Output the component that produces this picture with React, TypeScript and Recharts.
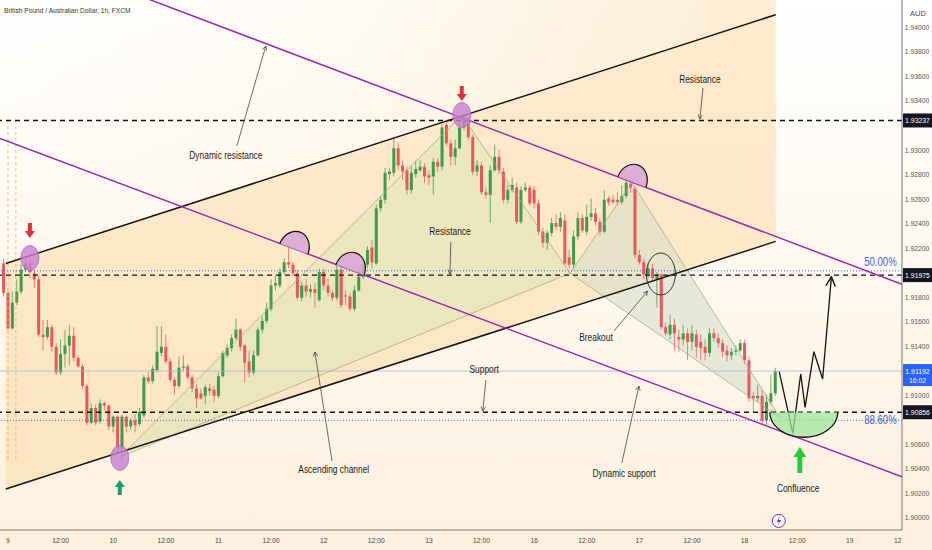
import React from 'react';
import {
  ComposedChart,
  Bar,
  Line,
  Area,
  XAxis,
  YAxis,
  ReferenceLine,
  ReferenceDot,
} from 'recharts';

const TITLE = 'British Pound / Australian Dollar, 1h, FXCM';
const GREEN = '#3d9b4a';
const RED = '#e8585b';
const PURPLE = '#9c27b0';
const FONT = '"Liberation Sans", Arial, sans-serif';

// hourly candles [open, high, low, close]; hour 0 = 00:00 on the 9th (weekend hours skipped)
const day9 = [
  [1.9207, 1.9211, 1.918, 1.9183],
  [1.9183, 1.9184, 1.9153, 1.9154],
  [1.9154, 1.9184, 1.9153, 1.9175],
  [1.9175, 1.9194, 1.9173, 1.9184],
  [1.9184, 1.9206, 1.9182, 1.9202],
  [1.9202, 1.921, 1.92, 1.9207],
  [1.9207, 1.9211, 1.9195, 1.92],
  [1.9199, 1.9202, 1.9187, 1.9194],
  [1.9194, 1.9197, 1.9147, 1.9149],
  [1.9149, 1.9161, 1.9136, 1.9147],
  [1.9147, 1.9161, 1.9145, 1.9155],
  [1.9155, 1.9157, 1.9135, 1.9139],
  [1.9139, 1.9142, 1.9116, 1.9118],
  [1.9118, 1.9145, 1.9116, 1.9133],
  [1.9133, 1.9153, 1.9122, 1.914],
  [1.914, 1.9157, 1.9124, 1.9148],
  [1.9148, 1.9155, 1.9127, 1.913],
  [1.913, 1.9132, 1.9122, 1.9123],
  [1.9123, 1.9125, 1.9105, 1.9107],
  [1.9107, 1.9109, 1.9075, 1.9077],
  [1.9077, 1.9093, 1.9076, 1.9089],
  [1.9089, 1.9092, 1.9075, 1.9077],
  [1.9078, 1.9096, 1.9076, 1.9093],
  [1.9093, 1.9094, 1.9087, 1.9091],
  [1.9091, 1.9092, 1.9071, 1.9074],
];
const day10 = [
  [1.9074, 1.9083, 1.9069, 1.9082],
  [1.9082, 1.9083, 1.9052, 1.9056],
  [1.9056, 1.9084, 1.9045, 1.9082],
  [1.9082, 1.9083, 1.9069, 1.9074],
  [1.9074, 1.9081, 1.9071, 1.9079],
  [1.9079, 1.9084, 1.9069, 1.9075],
  [1.9076, 1.9089, 1.9074, 1.9086],
  [1.9083, 1.9116, 1.9081, 1.9114],
  [1.9114, 1.9118, 1.9109, 1.9111],
  [1.9111, 1.9124, 1.9109, 1.9121],
  [1.912, 1.9156, 1.9118, 1.9135],
  [1.9134, 1.9156, 1.9131, 1.9139],
  [1.9139, 1.9149, 1.9125, 1.9127],
  [1.9127, 1.913, 1.911, 1.9112],
  [1.9112, 1.9114, 1.91, 1.9107],
  [1.9107, 1.9131, 1.9105, 1.9122],
  [1.9122, 1.9132, 1.9119, 1.9123],
  [1.9123, 1.9125, 1.9112, 1.9114],
  [1.9114, 1.9116, 1.9102, 1.9105],
  [1.9105, 1.9108, 1.9089, 1.9097],
  [1.9101, 1.9105, 1.9096, 1.9097],
  [1.9099, 1.9108, 1.9092, 1.9106],
  [1.9105, 1.9109, 1.9099, 1.9103],
  [1.9104, 1.9107, 1.9094, 1.9099],
];
const day11 = [
  [1.9099, 1.9118, 1.9097, 1.9115],
  [1.9115, 1.9136, 1.9114, 1.9134],
  [1.9132, 1.9141, 1.913, 1.9138],
  [1.9138, 1.9149, 1.9135, 1.9146],
  [1.9146, 1.9162, 1.9145, 1.9153],
  [1.9153, 1.9154, 1.9136, 1.9139],
  [1.914, 1.9141, 1.911, 1.9126],
  [1.9127, 1.9136, 1.9114, 1.9118],
  [1.9118, 1.9136, 1.9116, 1.9132],
  [1.9132, 1.9155, 1.9131, 1.9153],
  [1.9153, 1.9164, 1.915, 1.916],
  [1.916, 1.9175, 1.9158, 1.917],
  [1.917, 1.9194, 1.9168, 1.9189],
  [1.9189, 1.9197, 1.9185, 1.9191],
  [1.9189, 1.9203, 1.9187, 1.92],
  [1.92, 1.9211, 1.9198, 1.9208],
  [1.9208, 1.922, 1.9203, 1.9206],
  [1.9206, 1.9208, 1.9197, 1.9199],
  [1.9199, 1.9202, 1.9177, 1.9179],
  [1.9179, 1.9192, 1.9176, 1.9189],
  [1.9189, 1.9194, 1.918, 1.9184],
  [1.9184, 1.919, 1.9179, 1.9186],
  [1.9186, 1.9191, 1.9171, 1.9183],
  [1.9177, 1.9203, 1.9176, 1.92],
];
const day12 = [
  [1.92, 1.9203, 1.9185, 1.9189],
  [1.9189, 1.9195, 1.918, 1.9183],
  [1.9183, 1.9185, 1.9176, 1.9179],
  [1.9179, 1.9205, 1.9177, 1.9202],
  [1.9202, 1.9205, 1.9171, 1.9173],
  [1.9181, 1.9185, 1.9173, 1.918],
  [1.918, 1.9183, 1.9168, 1.917],
  [1.917, 1.9189, 1.9168, 1.9185],
  [1.9185, 1.92, 1.9184, 1.9196],
  [1.9196, 1.9208, 1.9194, 1.9206],
  [1.9206, 1.9221, 1.9203, 1.9218],
  [1.922, 1.9226, 1.9203, 1.9208],
  [1.9207, 1.9255, 1.9206, 1.9252],
  [1.9252, 1.9262, 1.9249, 1.9259],
  [1.9259, 1.9285, 1.9256, 1.9281],
  [1.928, 1.9285, 1.9275, 1.9282],
  [1.9281, 1.9309, 1.9278, 1.9301],
  [1.9301, 1.9305, 1.9283, 1.9287],
  [1.9287, 1.9291, 1.9275, 1.9282],
  [1.9283, 1.9286, 1.9263, 1.9267],
  [1.9267, 1.9287, 1.9264, 1.9281],
  [1.928, 1.9291, 1.9277, 1.9284],
  [1.9283, 1.9291, 1.9282, 1.9286],
  [1.9286, 1.9289, 1.9273, 1.9278],
];
const day13 = [
  [1.9279, 1.9283, 1.9271, 1.9277],
  [1.9278, 1.9293, 1.9263, 1.929],
  [1.929, 1.9293, 1.9282, 1.9286],
  [1.9286, 1.9321, 1.9283, 1.9318],
  [1.932, 1.9323, 1.9303, 1.9305],
  [1.9305, 1.9308, 1.9287, 1.9294],
  [1.9294, 1.9308, 1.9287, 1.9301],
  [1.9301, 1.9326, 1.93, 1.9318],
  [1.9318, 1.9329, 1.9316, 1.9326],
  [1.9324, 1.9326, 1.9308, 1.931],
  [1.931, 1.9312, 1.9279, 1.9282],
  [1.9282, 1.9291, 1.9278, 1.9287],
  [1.9287, 1.929, 1.9263, 1.9265],
  [1.9265, 1.9269, 1.926, 1.9263],
  [1.9263, 1.9287, 1.924, 1.9283],
  [1.9283, 1.9304, 1.9282, 1.9294],
  [1.9294, 1.93, 1.928, 1.9283],
  [1.9282, 1.9285, 1.9256, 1.9259],
  [1.9259, 1.9271, 1.9256, 1.9267],
  [1.9267, 1.9277, 1.9265, 1.9271],
  [1.9269, 1.9273, 1.9239, 1.9241],
  [1.9241, 1.927, 1.9239, 1.9267],
  [1.9267, 1.9273, 1.9265, 1.9269],
  [1.9269, 1.9271, 1.9254, 1.9256],
];
const day16 = [
  [1.9267, 1.927, 1.9252, 1.9256],
  [1.9256, 1.9259, 1.923, 1.9233],
  [1.9233, 1.9236, 1.922, 1.9224],
  [1.9224, 1.9234, 1.9218, 1.9232],
  [1.9232, 1.9244, 1.9229, 1.924],
  [1.924, 1.9247, 1.9234, 1.9237],
  [1.9237, 1.9249, 1.9233, 1.9244],
  [1.9242, 1.9247, 1.9205, 1.9207],
  [1.9212, 1.9218, 1.9203, 1.9206],
  [1.9206, 1.9234, 1.9203, 1.9229],
  [1.9229, 1.9249, 1.9226, 1.9244],
  [1.9244, 1.9247, 1.9232, 1.9234],
  [1.9233, 1.9255, 1.923, 1.9245],
  [1.9245, 1.926, 1.9242, 1.9248],
  [1.9248, 1.9252, 1.9238, 1.9241],
  [1.9241, 1.9244, 1.923, 1.9233],
  [1.9233, 1.9267, 1.9232, 1.9259],
  [1.926, 1.9262, 1.9254, 1.9257],
  [1.9259, 1.9263, 1.9255, 1.9257],
  [1.9259, 1.9265, 1.9254, 1.9257],
  [1.9257, 1.9271, 1.9255, 1.9262],
  [1.9262, 1.9278, 1.926, 1.9273],
  [1.9272, 1.9277, 1.9265, 1.9269],
  [1.9268, 1.9269, 1.9211, 1.9214],
];
const day17 = [
  [1.9214, 1.9218, 1.9206, 1.9208],
  [1.9208, 1.9211, 1.9194, 1.9198],
  [1.9198, 1.9207, 1.9195, 1.9203],
  [1.9203, 1.9207, 1.9192, 1.9195],
  [1.9194, 1.92, 1.9171, 1.9198],
  [1.9198, 1.9199, 1.9153, 1.9155],
  [1.9155, 1.9159, 1.9148, 1.915],
  [1.9149, 1.9165, 1.9145, 1.9157],
  [1.9157, 1.9162, 1.9136, 1.915],
  [1.9147, 1.9153, 1.9135, 1.9145],
  [1.9145, 1.9157, 1.914, 1.915],
  [1.915, 1.9154, 1.9128, 1.9143],
  [1.9143, 1.9157, 1.9136, 1.915],
  [1.9149, 1.9153, 1.913, 1.9139],
  [1.9143, 1.9149, 1.9128, 1.9138],
  [1.9139, 1.9145, 1.9128, 1.9134],
  [1.9134, 1.9154, 1.9131, 1.915],
  [1.915, 1.9154, 1.9143, 1.9146],
  [1.9146, 1.915, 1.9138, 1.9142],
  [1.9142, 1.9145, 1.913, 1.9135],
  [1.9136, 1.914, 1.9127, 1.9132],
  [1.9132, 1.9138, 1.9128, 1.9135],
  [1.9135, 1.914, 1.9132, 1.9136],
  [1.9136, 1.9145, 1.9135, 1.9142],
];
const day18 = [
  [1.9142, 1.9145, 1.9125, 1.9128],
  [1.9128, 1.9131, 1.9094, 1.9097],
  [1.9099, 1.9102, 1.9086, 1.9097],
  [1.9097, 1.9108, 1.9094, 1.9099],
  [1.9099, 1.9104, 1.9076, 1.9079],
  [1.9079, 1.91, 1.9075, 1.9094],
  [1.9094, 1.9116, 1.9092, 1.9101],
  [1.9101, 1.9122, 1.9099, 1.9119],
];
// first hour of each session array
const sessions: [number, number[][]][] = [
  [-1, day9],
  [24, day10],
  [48, day11],
  [72, day12],
  [96, day13],
  [120, day16],
  [144, day17],
  [168, day18],
];

const hourTicks = [0, 12, 24, 36, 48, 60, 72, 84, 96, 108, 120, 132, 144, 156, 168, 180, 192, 203.8];
const hourLabels = ['9', '12:00', '10', '12:00', '11', '12:00', '12', '12:00', '13', '12:00', '16', '12:00', '17', '12:00', '18', '12:00', '19', '12'];
const priceTicks = [1.9, 1.902, 1.904, 1.906, 1.91, 1.914, 1.916, 1.918, 1.922, 1.924, 1.926, 1.928, 1.93, 1.934, 1.936, 1.938, 1.94];

// levels
const resistanceTop = 1.93237;
const resistanceMid = 1.91975;
const supportLevel = 1.90856;
const lastPrice = 1.91192;
const fib50 = 1.9201;
const fib886 = 1.9079;
const priceTop = 1.9422;
const priceBottom = 1.89895;

// drawn lines as [hour, price] points
const channelUpper = [[-0.5, 1.9207], [175.1, 1.941]];
const channelLower = [[-0.5, 1.9023], [175.1, 1.9225]];
const purpleUpper = [[20, 1.9439], [203.9, 1.919]];
const purpleLower = [[-1.82, 1.9309], [203.9, 1.9033]];
const sessionMarks = [[0, 1.9324, 1.9047], [1.8, 1.9324, 1.9047]];
const projection = [
  [175.9, 1.91187],
  [179.0, 1.90684],
  [180.8, 1.91168],
  [181.8, 1.90896],
  [183.8, 1.9135],
  [185.8, 1.91127],
  [187.8, 1.91962],
];
// harmonic pattern X A B C D
const ptX = [25.5, 1.9049];
const ptA = [103.5, 1.9328];
const ptB = [128.2, 1.9199];
const ptC = [142.3, 1.9273];
const ptD = [176.1, 1.9081];

const notes: [string, number, number][] = [
  ['Dynamic resistance', 49.7, 1.92947],
  ['Resistance', 157.8, 1.93575],
  ['Resistance', 100.8, 1.92327],
  ['Support', 108.6, 1.91201],
  ['Ascending channel', 74.3, 1.90385],
  ['Dynamic support', 140.5, 1.90352],
  ['Breakout', 134.1, 1.91462],
  ['Confluence', 180.2, 1.9023],
];
const pointers = [
  [[52.2, 1.93029], [58.8, 1.93845]],
  [[158.5, 1.93502], [157.8, 1.93249]],
  [[101.0, 1.92245], [100.8, 1.91984]],
  [[109.0, 1.91119], [108.3, 1.90866]],
  [[73.9, 1.90458], [70.0, 1.91348]],
  [[140.0, 1.90442], [143.9, 1.9107]],
  [[138.2, 1.91519], [145.9, 1.91845]],
];
const pivots = [[5.0, 1.92115], [25.5, 1.90483], [103.5, 1.93282]];
const touches = [[65.2, 1.92188], [78.0, 1.92017], [142.3, 1.92735]];
const downArrows = [[5.0, 1.92278], [103.5, 1.93396]];

const candles = sessions.flatMap(([start, rows]) =>
  rows.map(([o, h, l, c], k) => ({ t: start + k, o, h, l, c }))
);

const toPts = (pts: number[][]) => pts.map(([t, v]) => ({ t, v }));

function triangleBand(a: number[], b: number[], c: number[]) {
  const [p, q, r] = [a, b, c].sort((m, n) => m[0] - n[0]);
  const mid = p[1] + ((r[1] - p[1]) * (q[0] - p[0])) / (r[0] - p[0]);
  return [
    { t: p[0], band: [p[1], p[1]] },
    { t: q[0], band: [Math.min(mid, q[1]), Math.max(mid, q[1])] },
    { t: r[0], band: [r[1], r[1]] },
  ];
}

// condensed chart font
function NText({ x, y, size, color, anchor = 'middle', squeeze = 0.84, children }: any) {
  return (
    <text
      transform={`translate(${x},${y}) scale(${squeeze},1)`}
      textAnchor={anchor}
      fontSize={size}
      fill={color}
      fontFamily={FONT}
    >
      {children}
    </text>
  );
}

function Candle(props: any) {
  const { x, y, width, height, payload } = props;
  if (!payload || x == null) return null;
  const { o, h, l, c } = payload;
  const top = Math.min(y, y + height);
  const bot = Math.max(y, y + height);
  const span = h - l;
  const py = (v: number) => (span === 0 ? top : top + ((h - v) / span) * (bot - top));
  const cx = x + width / 2;
  const col = c >= o ? GREEN : RED;
  const b1 = py(Math.max(o, c));
  const b2 = py(Math.min(o, c));
  return (
    <g>
      <line x1={cx} x2={cx} y1={top} y2={bot} stroke={col} strokeWidth={1} strokeOpacity={0.75} />
      <rect x={cx - 1.5} y={b1} width={3} height={Math.max(1, b2 - b1)} fill={col} />
    </g>
  );
}

const priceBox = (text: string, bg: string, sub?: string) => (props: any) => {
  const { x, y, width } = props.viewBox;
  const h = sub ? 22 : 14;
  return (
    <g>
      <rect x={x + width + 1} y={y - 7} width={29} height={h} fill={bg} />
      <NText x={x + width + 15.5} y={y + 3} size={7.5} color="#fff" squeeze={0.92}>
        {text}
      </NText>
      {sub && (
        <NText x={x + width + 15.5} y={y + 12} size={7.5} color="#fff" squeeze={0.92}>
          {sub}
        </NText>
      )}
    </g>
  );
};

const renderHourTick = (props: any) => {
  const { x, y, payload } = props;
  const i = hourTicks.indexOf(payload.value);
  const last = i === hourTicks.length - 1;
  return (
    <NText x={x} y={y + 5} anchor={last ? 'end' : 'middle'} size={7.5} color="#444" squeeze={0.9}>
      {hourLabels[i]}
    </NText>
  );
};

const renderPriceTick = (props: any) => {
  const { y, payload } = props;
  return (
    <NText x={917} y={y + 3} size={7.5} color="#555" squeeze={0.9}>
      {payload.value.toFixed(5)}
    </NText>
  );
};

const noteDot = (key: string, t: number, v: number, draw: (cx: number, cy: number) => any) => (
  <ReferenceDot key={key} x={t} y={v} r={0} shape={(p: any) => draw(p.cx, p.cy)} />
);

export default function App() {
  return (
    <div
      style={{
        position: 'relative',
        width: 932,
        height: 550,
        background: 'linear-gradient(to bottom, #ffffff 0%, #fefaf3 35%, #fdf0de 100%)',
        fontFamily: FONT,
      }}
    >
      <style>{'body{margin:0}'}</style>
      <div
        style={{
          position: 'absolute',
          left: 4,
          top: 6,
          fontSize: 8,
          color: '#333',
          whiteSpace: 'nowrap',
          transform: 'scaleX(0.83)',
          transformOrigin: 'left top',
        }}
      >
        {TITLE}
      </div>
      <div style={{ position: 'absolute', left: 910, top: 9, fontSize: 7.5, color: '#444' }}>AUD</div>
      <ComposedChart width={932} height={550} data={candles} margin={{ top: 0, right: 0, bottom: 0, left: 0 }}>
        <defs>
          <linearGradient id="aboveGrad" x1="0" y1="0" x2="1" y2="0">
            <stop offset="0%" stopColor="#fbd9a3" stopOpacity={0} />
            <stop offset="45%" stopColor="#fbd9a3" stopOpacity={0.12} />
            <stop offset="100%" stopColor="#fbd9a3" stopOpacity={0.5} />
          </linearGradient>
          <marker id="openHead" viewBox="0 0 10 10" refX="9" refY="5" markerWidth="7" markerHeight="7" orient="auto">
            <path d="M1,1 L9,5 L1,9" fill="none" stroke="#333" strokeWidth={1.2} />
          </marker>
          <marker id="bigHead" viewBox="0 0 10 10" refX="9" refY="5" markerWidth="9" markerHeight="9" orient="auto">
            <path d="M1,1 L9,5 L1,9" fill="none" stroke="#111" strokeWidth={1.2} />
          </marker>
        </defs>
        <XAxis
          dataKey="t"
          type="number"
          domain={[-1.82, 203.9]}
          allowDataOverflow
          ticks={hourTicks}
          interval={0}
          tick={renderHourTick}
          tickLine={false}
          axisLine={{ stroke: '#777' }}
          height={20}
        />
        <YAxis
          orientation="right"
          type="number"
          domain={[priceBottom, priceTop]}
          allowDataOverflow
          ticks={priceTicks}
          interval={0}
          tick={renderPriceTick}
          tickLine={false}
          axisLine={{ stroke: '#777' }}
          width={30}
        />
        <Area
          data={[
            { t: channelUpper[0][0], band: [channelUpper[0][1], priceTop + 0.001] },
            { t: channelUpper[1][0], band: [channelUpper[1][1], priceTop + 0.001] },
          ]}
          dataKey="band"
          type="linear"
          stroke="none"
          fill="url(#aboveGrad)"
          fillOpacity={1}
          isAnimationActive={false}
        />
        <Area
          data={[
            { t: channelLower[0][0], band: [channelLower[0][1], channelUpper[0][1]] },
            { t: channelLower[1][0], band: [channelLower[1][1], channelUpper[1][1]] },
          ]}
          dataKey="band"
          type="linear"
          stroke="none"
          fill="#fbd7a0"
          fillOpacity={0.5}
          isAnimationActive={false}
        />
        <Area data={triangleBand(ptX, ptA, ptB)} dataKey="band" type="linear" stroke="none" fill="#d9e6b6" fillOpacity={0.5} isAnimationActive={false} />
        <Area data={triangleBand(ptB, ptC, ptD)} dataKey="band" type="linear" stroke="none" fill="#d3dfcb" fillOpacity={0.55} isAnimationActive={false} />
        {[[ptX, ptA], [ptA, ptB], [ptX, ptB], [ptB, ptC], [ptC, ptD], [ptB, ptD]].map((seg, k) => (
          <Line key={`pat${k}`} data={toPts(seg)} dataKey="v" type="linear" stroke="#a9a98e" strokeWidth={0.8} dot={false} activeDot={false} isAnimationActive={false} />
        ))}
        {sessionMarks.map(([t, p1, p2], k) => (
          <ReferenceLine
            key={`sm${k}`}
            segment={[{ x: t, y: p1 }, { x: t, y: p2 }]}
            stroke="#f2a54a"
            strokeDasharray="3 3"
            strokeWidth={0.8}
          />
        ))}
        <ReferenceLine y={lastPrice} stroke="#9db3e6" strokeWidth={0.8} label={{ content: priceBox('1.91192', '#2962ff', '16:02') }} />
        <ReferenceLine y={fib50} stroke="#2962ff" strokeDasharray="1 2" strokeWidth={1} />
        <ReferenceLine y={fib886} stroke="#2962ff" strokeDasharray="1 2" strokeWidth={1} />
        <Bar dataKey={(d: any) => [d.l, d.h]} shape={Candle} barSize={3} isAnimationActive={false} />
        <ReferenceLine y={resistanceTop} stroke="#111" strokeDasharray="5 4" strokeWidth={1.4} label={{ content: priceBox('1.93237', '#131722') }} />
        <ReferenceLine y={resistanceMid} stroke="#111" strokeDasharray="5 4" strokeWidth={1.4} label={{ content: priceBox('1.91975', '#131722') }} />
        <ReferenceLine y={supportLevel} stroke="#111" strokeDasharray="5 4" strokeWidth={1.4} label={{ content: priceBox('1.90856', '#131722') }} />
        <Line data={toPts(channelUpper)} dataKey="v" type="linear" stroke="#151515" strokeWidth={1.5} dot={false} activeDot={false} isAnimationActive={false} />
        <Line data={toPts(channelLower)} dataKey="v" type="linear" stroke="#151515" strokeWidth={1.5} dot={false} activeDot={false} isAnimationActive={false} />
        <Line data={toPts(purpleUpper)} dataKey="v" type="linear" stroke={PURPLE} strokeWidth={1.5} dot={false} activeDot={false} isAnimationActive={false} />
        <Line data={toPts(purpleLower)} dataKey="v" type="linear" stroke={PURPLE} strokeWidth={1.5} dot={false} activeDot={false} isAnimationActive={false} />
        {pivots.map(([t, v], k) =>
          noteDot(`pv${k}`, t, v, (cx, cy) => (
            <ellipse cx={cx} cy={cy} rx={9} ry={12.5} fill="#c77fd0" fillOpacity={0.8} stroke="#b06ac0" strokeWidth={0.8} />
          ))
        )}
        {touches.map(([t, v], k) =>
          noteDot(`tc${k}`, t, v, (cx, cy) => (
            <g transform={`translate(${cx},${cy}) rotate(20.6)`}>
              <path d="M-15,0 A15,18 0 0 1 15,0 Z" fill="#d9a3d6" fillOpacity={0.85} stroke="none" />
              <path d="M-15,0 A15,18 0 0 1 15,0" fill="none" stroke="#111" strokeWidth={1.2} />
            </g>
          ))
        )}
        {downArrows.map(([t, v], k) =>
          noteDot(`da${k}`, t, v, (cx, cy) => (
            <path transform={`translate(${cx},${cy})`} d="M-2,-15 L2,-15 L2,-7 L5,-7 L0,0 L-5,-7 L-2,-7 Z" fill="#e0313a" />
          ))
        )}
        {noteDot('upX', 25.5, 1.90303, (cx, cy) => (
          <path transform={`translate(${cx},${cy})`} d="M-2,15 L2,15 L2,7 L5,7 L0,0 L-5,7 L-2,7 Z" fill="#1e9b6e" />
        ))}
        {noteDot('upD', 180.6, 1.90572, (cx, cy) => (
          <path transform={`translate(${cx},${cy})`} d="M-2.5,26 L2.5,26 L2.5,10 L6.5,10 L0,0 L-6.5,10 L-2.5,10 Z" fill="#22cc33" />
        ))}
        {noteDot('bowl', 181.5, supportLevel, (cx, cy) => (
          <g transform={`translate(${cx},${cy})`}>
            <path d="M-34,0 A34,25 0 0 0 34,0 Z" fill="#9fe49a" fillOpacity={0.75} stroke="none" />
            <path d="M-34,0 A34,25 0 0 0 34,0" fill="none" stroke="#111" strokeWidth={1.3} />
          </g>
        ))}
        {noteDot('brk', 148.9, 1.91984, (cx, cy) => (
          <ellipse cx={cx} cy={cy} rx={14.5} ry={21} fill="none" stroke="#333" strokeWidth={1} />
        ))}
        <Line data={toPts(projection)} dataKey="v" type="linear" stroke="#111" strokeWidth={1.3} dot={false} activeDot={false} markerEnd="url(#bigHead)" isAnimationActive={false} />
        {pointers.map((seg, k) => (
          <Line key={`pt${k}`} data={toPts(seg)} dataKey="v" type="linear" stroke="#444" strokeWidth={0.8} dot={false} activeDot={false} markerEnd="url(#openHead)" isAnimationActive={false} />
        ))}
        {notes.map(([label, t, v], k) =>
          noteDot(`nt${k}`, t, v, (cx, cy) => (
            <NText x={cx} y={cy + 3.5} size={10} color="#1a1a1a">
              {label}
            </NText>
          ))
        )}
        {noteDot('f50', 202.7, 1.92082, (cx, cy) => (
          <NText x={cx} y={cy + 4} size={12} color="#3d63e0" anchor="end" squeeze={0.8}>
            50.00%
          </NText>
        ))}
        {noteDot('f886', 202.7, 1.90793, (cx, cy) => (
          <NText x={cx} y={cy + 4} size={12} color="#3d63e0" anchor="end" squeeze={0.8}>
            88.60%
          </NText>
        ))}
        {noteDot('bolt', 175.8, 1.89969, (cx, cy) => (
          <g transform={`translate(${cx},${cy})`}>
            <circle r={6.5} fill="#fff" stroke="#8e24aa" strokeWidth={1} />
            <path d="M1,-4.5 L-2.2,0.8 L0.2,0.8 L-1,4.5 L2.4,-1 L0,-1 Z" fill="#8e24aa" />
          </g>
        ))}
      </ComposedChart>
    </div>
  );
}
